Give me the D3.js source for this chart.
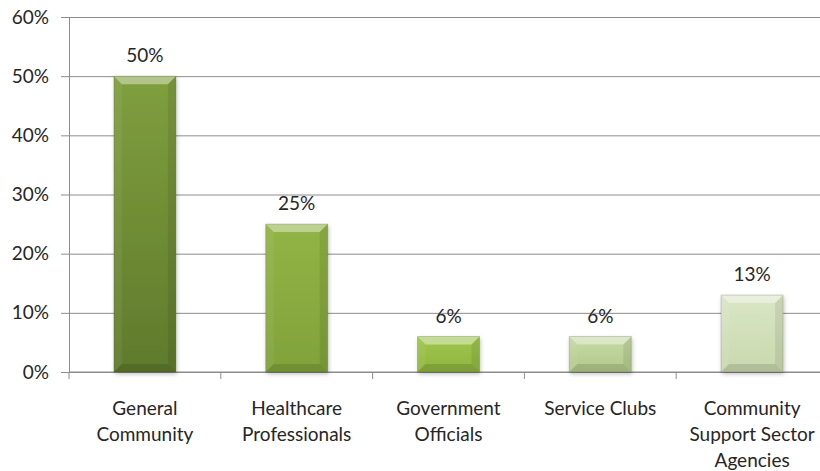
<!DOCTYPE html>
<html>
<head>
<meta charset="utf-8">
<script src="https://cdn.jsdelivr.net/npm/d3@7.9.0/dist/d3.min.js"></script>
<style>
  body { margin: 0; background: #fff; }
  text { font-family: Lato, "Open Sans", sans-serif; fill: #262626; }
</style>
</head>
<body>
<div id="chart"></div>
<script>
const categories = [
  ['General', 'Community'],
  ['Healthcare', 'Professionals'],
  ['Government', 'Officials'],
  ['Service Clubs'],
  ['Community', 'Support Sector', 'Agencies']
];
const values = [0.50, 0.25, 0.06, 0.06, 0.13];
const yTicks = [0, 0.1, 0.2, 0.3, 0.4, 0.5, 0.6];
// top / bottom colours of each bar's gradient
const barTop = ['#809f3e', '#92b446', '#a0c64e', '#c6d9a4', '#dae6c6'];
const barBottom = ['#5f7a2c', '#80a23a', '#8fb53e', '#b3c98b', '#c9d8ad'];

const width = 820, height = 471;
const area = { left: 69, right: 828, top: 17, bottom: 372 };
const fontSize = 19;

const svg = d3.select('#chart').append('svg')
  .attr('width', width).attr('height', height);

const x = d3.scaleBand().domain(d3.range(values.length))
  .range([area.left, area.right]).paddingInner(0).paddingOuter(0);
const y = d3.scaleLinear().domain([0, 0.6]).range([area.bottom, area.top]);

// gridlines
svg.append('g')
  .attr('transform', `translate(${area.left},0)`)
  .call(d3.axisLeft(y).tickValues(yTicks).tickFormat('').tickSize(-(area.right - area.left)))
  .call(g => g.select('.domain').remove())
  .call(g => g.selectAll('line').attr('stroke', '#8c8c8c'));

// y axis
svg.append('g')
  .attr('transform', `translate(${area.left},0)`)
  .call(d3.axisLeft(y).tickValues(yTicks).tickFormat(d3.format('.0%')).tickSize(8).tickPadding(12))
  .call(g => g.select('.domain').attr('stroke', '#8c8c8c'))
  .call(g => g.selectAll('line').attr('stroke', '#8c8c8c'))
  .call(g => g.selectAll('text').attr('font-size', fontSize).attr('fill', '#262626')
    .style('font-family', 'Lato, sans-serif'));

// x axis
const xAxis = svg.append('g').attr('transform', `translate(0,${area.bottom})`);
xAxis.append('line').attr('x1', area.left).attr('x2', area.right)
  .attr('stroke', '#8c8c8c');
xAxis.selectAll('line.tick').data(d3.range(values.length + 1)).join('line')
  .attr('class', 'tick')
  .attr('x1', i => area.left + i * x.step()).attr('x2', i => area.left + i * x.step())
  .attr('y1', 0).attr('y2', 7).attr('stroke', '#8c8c8c');

const defs = svg.append('defs');
values.forEach((v, i) => {
  const g = defs.append('linearGradient').attr('id', 'grad' + i)
    .attr('x1', 0).attr('y1', 0).attr('x2', 0).attr('y2', 1);
  g.append('stop').attr('offset', '0%').attr('stop-color', barTop[i]);
  g.append('stop').attr('offset', '100%').attr('stop-color', barBottom[i]);
});
const shadow = defs.append('filter').attr('id', 'shadow')
  .attr('x', '-20%').attr('y', '-10%').attr('width', '140%').attr('height', '130%');
shadow.append('feDropShadow').attr('dx', 1).attr('dy', 2).attr('stdDeviation', 2)
  .attr('flood-color', '#000').attr('flood-opacity', 0.25);

const barW = 62;
const bev = 8;
const bars = svg.append('g').selectAll('g').data(values).join('g')
  .attr('transform', (d, i) => `translate(${x(i) + x.bandwidth() / 2 - barW / 2},${y(d)})`);

bars.append('rect')
  .attr('width', barW).attr('height', d => y(0) - y(d))
  .attr('fill', (d, i) => `url(#grad${i})`)
  .attr('filter', 'url(#shadow)');

// bevel: light top, darker sides and bottom
bars.append('path')
  .attr('d', `M0,0 L${barW},0 L${barW - bev},${bev} L${bev},${bev} Z`)
  .attr('fill', '#fff').attr('opacity', 0.4);
bars.append('path')
  .attr('d', d => { const h = y(0) - y(d); return `M0,0 L${bev},${bev} L${bev},${h - bev} L0,${h} Z`; })
  .attr('fill', '#fff').attr('opacity', 0.06);
bars.append('path')
  .attr('d', d => { const h = y(0) - y(d); return `M${barW},0 L${barW - bev},${bev} L${barW - bev},${h - bev} L${barW},${h} Z`; })
  .attr('fill', '#000').attr('opacity', 0.08);
bars.append('path')
  .attr('d', d => { const h = y(0) - y(d); return `M0,${h} L${bev},${h - bev} L${barW - bev},${h - bev} L${barW},${h} Z`; })
  .attr('fill', '#000').attr('opacity', 0.12);
bars.append('rect')
  .attr('width', barW).attr('height', d => y(0) - y(d))
  .attr('fill', 'none').attr('stroke', '#000').attr('stroke-opacity', 0.15);

// data labels
svg.append('g').selectAll('text').data(values).join('text')
  .attr('x', (d, i) => x(i) + x.bandwidth() / 2)
  .attr('y', d => y(d) - 14)
  .attr('text-anchor', 'middle').attr('font-size', fontSize)
  .text(d => d3.format('.0%')(d));

// category labels
svg.append('g').selectAll('text').data(categories).join('text')
  .attr('x', (d, i) => x(i) + x.bandwidth() / 2)
  .attr('y', 415)
  .attr('text-anchor', 'middle').attr('font-size', fontSize)
  .selectAll('tspan').data(d => d).join('tspan')
  .attr('x', function () { return this.parentNode.getAttribute('x'); })
  .attr('dy', (d, j) => j === 0 ? 0 : 26)
  .text(d => d);
</script>
</body>
</html>
